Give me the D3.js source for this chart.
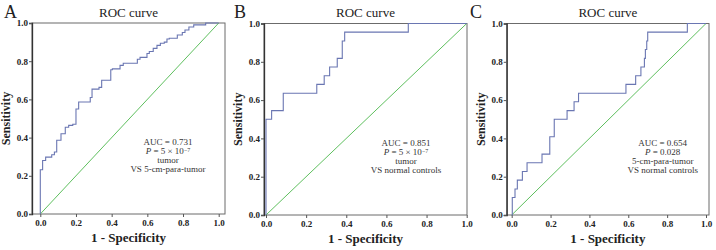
<!DOCTYPE html>
<html>
<head>
<meta charset="utf-8">
<script src="https://cdn.jsdelivr.net/npm/d3@7"></script>
<style>
  body { margin: 0; background: #fff; }
  text { font-family: "Liberation Serif", "Times New Roman", serif; }
</style>
</head>
<body>
<div id="chart"></div>
<script>
// tick labels shared by both axes
var tickValues = [0, 0.2, 0.4, 0.6, 0.8, 1.0];

// panel A: tumor vs 5-cm-para-tumor
var fprA = [0, 0, 0.013, 0.03, 0.064, 0.079, 0.092, 0.116, 0.14, 0.159, 0.182, 0.2, 0.215, 0.28, 0.29, 0.329, 0.344, 0.395, 0.404, 0.447, 0.465, 0.544, 0.559, 0.598, 0.611, 0.633, 0.654, 0.673, 0.695, 0.71, 0.723, 0.768, 0.796, 0.811, 0.833, 0.86, 0.927, 1.0];
var tprA = [0, 0.232, 0.28, 0.298, 0.31, 0.325, 0.386, 0.42, 0.454, 0.464, 0.47, 0.55, 0.586, 0.61, 0.654, 0.663, 0.70, 0.755, 0.76, 0.778, 0.789, 0.81, 0.82, 0.84, 0.851, 0.867, 0.883, 0.894, 0.9, 0.916, 0.92, 0.937, 0.95, 0.963, 0.979, 0.99, 1.0, 1.0];
var notesA = ["AUC = 0.731", "P|5 × 10|−7", "tumor", "VS 5-cm-para-tumor"];

// panel B: tumor vs normal controls
var fprB = [0, 0, 0.028, 0.086, 0.253, 0.29, 0.317, 0.355, 0.38, 0.392, 0.709, 1.0];
var tprB = [0, 0.50, 0.545, 0.636, 0.682, 0.727, 0.773, 0.818, 0.909, 0.955, 1.0, 1.0];
var notesB = ["AUC = 0.851", "P|5 × 10|−7", "tumor", "VS normal controls"];

// panel C: 5-cm-para-tumor vs normal controls
var fprC = [0, 0.003, 0.017, 0.029, 0.055, 0.079, 0.156, 0.196, 0.219, 0.285, 0.321, 0.344, 0.588, 0.638, 0.665, 0.683, 0.688, 0.695, 0.70, 0.904, 1.0];
var tprC = [0, 0.091, 0.136, 0.182, 0.227, 0.273, 0.318, 0.409, 0.5, 0.545, 0.591, 0.636, 0.682, 0.727, 0.773, 0.818, 0.864, 0.909, 0.955, 1.0, 1.0];
var notesC = ["AUC = 0.654", "P|0.028", "5-cm-para-tumor", "VS normal controls"];

var svg = d3.select("#chart")
    .append("svg")
    .attr("width", 716)
    .attr("height", 250);

function drawPanel(p) {
    var g = svg.append("g");

    // x = 0..1 maps inside the frame, frame is a bit wider
    var x = d3.scaleLinear().domain([0, 1]).range([p.x0, p.x1]);
    var y = d3.scaleLinear().domain([0, 1]).range([p.yb, p.yt]);

    // frame
    g.append("rect")
        .attr("x", p.fl)
        .attr("y", p.yt)
        .attr("width", p.fr - p.fl)
        .attr("height", p.yb - p.yt)
        .attr("fill", "none")
        .attr("stroke", "#6b6b6b")
        .attr("stroke-width", 1);

    // y axis
    var ya = g.append("g")
        .attr("transform", "translate(" + p.fl + ",0)")
        .call(d3.axisLeft(y).tickValues(tickValues).tickFormat(d3.format(".1f")).tickSize(3).tickPadding(1));
    ya.select(".domain").attr("stroke", "#333").attr("stroke-width", 1.3);
    ya.selectAll(".tick line").attr("stroke", "#555");
    ya.selectAll("text")
        .attr("font-family", "Liberation Serif")
        .attr("font-size", 9)
        .attr("font-weight", "bold")
        .attr("fill", "#222");

    // x axis
    var xa = g.append("g")
        .attr("transform", "translate(0," + p.yb + ")")
        .call(d3.axisBottom(x).tickValues(tickValues).tickFormat(d3.format(".1f")).tickSize(3).tickPadding(3));
    xa.select(".domain").remove();
    xa.selectAll(".tick line").attr("stroke", "#555");
    xa.selectAll("text")
        .attr("font-family", "Liberation Serif")
        .attr("font-size", 9)
        .attr("font-weight", "bold")
        .attr("fill", "#222");

    // reference diagonal
    g.append("line")
        .attr("x1", x(0)).attr("y1", y(0))
        .attr("x2", x(1)).attr("y2", y(1))
        .attr("stroke", "#4cb84c")
        .attr("stroke-width", 0.9);

    // ROC curve
    var pts = p.fpr.map(function (d, i) { return [d, p.tpr[i]]; });
    var line = d3.line()
        .x(function (d) { return x(d[0]); })
        .y(function (d) { return y(d[1]); })
        .curve(d3.curveStepAfter);
    g.append("path")
        .datum(pts)
        .attr("d", line)
        .attr("fill", "none")
        .attr("stroke", "#6a76b2")
        .attr("stroke-width", 1.1);

    // title
    var cx = (p.fl + p.fr) / 2;
    g.append("text")
        .attr("x", cx)
        .attr("y", 17)
        .attr("text-anchor", "middle")
        .attr("font-size", 13)
        .attr("fill", "#222")
        .text("ROC curve");

    // panel letter
    g.append("text")
        .attr("x", p.lx)
        .attr("y", 18)
        .attr("font-size", 18)
        .attr("fill", "#222")
        .text(p.letter);

    // x label
    g.append("text")
        .attr("x", cx)
        .attr("y", p.yb + 28)
        .attr("text-anchor", "middle")
        .attr("font-size", 13)
        .attr("font-weight", "bold")
        .attr("fill", "#222")
        .text("1 - Specificity");

    // y label
    g.append("text")
        .attr("transform", "translate(" + (p.fl - 22) + "," + ((p.yt + p.yb) / 2) + ") rotate(-90)")
        .attr("text-anchor", "middle")
        .attr("font-size", 12)
        .attr("font-weight", "bold")
        .attr("fill", "#222")
        .text("Sensitivity");

    // annotation block
    p.notes.forEach(function (n, i) {
        var t = g.append("text")
            .attr("x", p.nx)
            .attr("y", p.ny + i * 9)
            .attr("text-anchor", "middle")
            .attr("font-size", 9)
            .attr("fill", "#333");
        if (n.indexOf("|") >= 0) {
            var parts = n.split("|");
            t.append("tspan").attr("font-style", "italic").text(parts[0]);
            t.append("tspan").text(" = " + parts[1]);
            if (parts[2]) {
                t.append("tspan").attr("font-size", 6).attr("dy", -2.5).text(parts[2]);
            }
        } else {
            t.text(n);
        }
    });
}

drawPanel({letter: "A", lx: 4, fl: 32, fr: 225, x0: 40.3, x1: 218.7, yt: 23, yb: 214,
    fpr: fprA, tpr: tprA, notes: notesA, nx: 168, ny: 145});
drawPanel({letter: "B", lx: 234, fl: 264, fr: 467, x0: 266, x1: 466.7, yt: 23.5, yb: 215,
    fpr: fprB, tpr: tprB, notes: notesB, nx: 406, ny: 146});
drawPanel({letter: "C", lx: 470, fl: 506.7, fr: 709, x0: 511.7, x1: 706, yt: 23.5, yb: 215,
    fpr: fprC, tpr: tprC, notes: notesC, nx: 662.7, ny: 146});
</script>
</body>
</html>
